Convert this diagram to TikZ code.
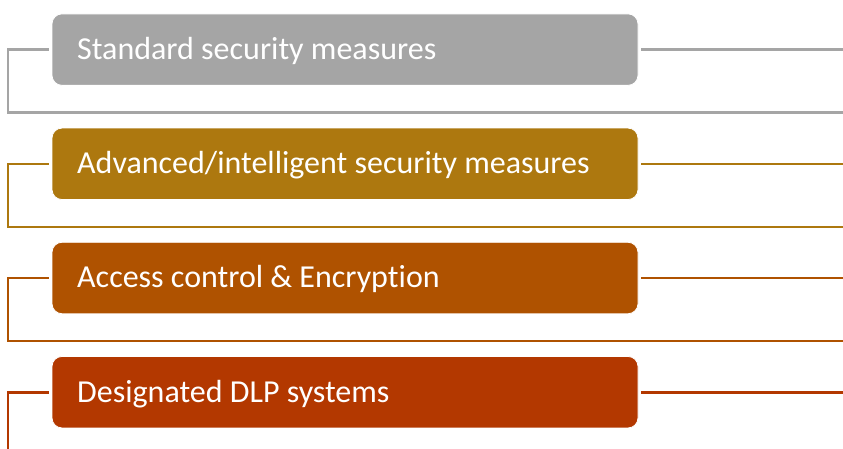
\documentclass[tikz,border=0pt]{standalone}
\usepackage{fontspec}
\setmainfont[Ligatures=NoCommon]{Carlito}
\definecolor{cgray}{HTML}{A5A5A5}
\definecolor{cgold}{HTML}{AD780F}
\definecolor{corange}{HTML}{AF5200}
\definecolor{crust}{HTML}{B33800}
\begin{document}
\begin{tikzpicture}[x=1pt,y=-1pt,
  stage/.style={rounded corners=10pt, minimum width=586pt, minimum height=71.5pt,
    draw=white, line width=0.8pt, inner sep=0pt},
  stagetext/.style={anchor=base west, text=white, inner sep=0pt,
    font=\fontsize{32}{36}\selectfont},
  link/.style={line width=2.6pt}]
\useasboundingbox (0,0) rectangle (843,448);
\foreach \i/\c/\t in {0/cgray/{Standard security measures},
                      1/cgold/{Advanced/intelligent security measures},
                      2/corange/{Access control \& Encryption},
                      3/crust/{Designated DLP systems}}{
  \pgfmathsetmacro{\yc}{49.6+114.2*\i}
  \node[stage, fill=\c] (box\i) at (345,\yc) {};
  \node[stagetext] (lab\i) at (77,\yc+9.8) {\t};
  \coordinate (l\i) at ([xshift=-3pt]box\i.west);
  \coordinate (r\i) at ([xshift=3pt]box\i.east);
  \coordinate (c\i) at (8,\yc);
  \coordinate (e\i) at (843,\yc);
  \coordinate (d\i) at (8,\yc+63);
  \coordinate (f\i) at (843,\yc+63);
  \draw[link, draw=\c] (r\i) -- (e\i);
  \draw[link, draw=\c] (l\i) -- (c\i) -- (d\i) -- (f\i);
}
\end{tikzpicture}
\end{document}
